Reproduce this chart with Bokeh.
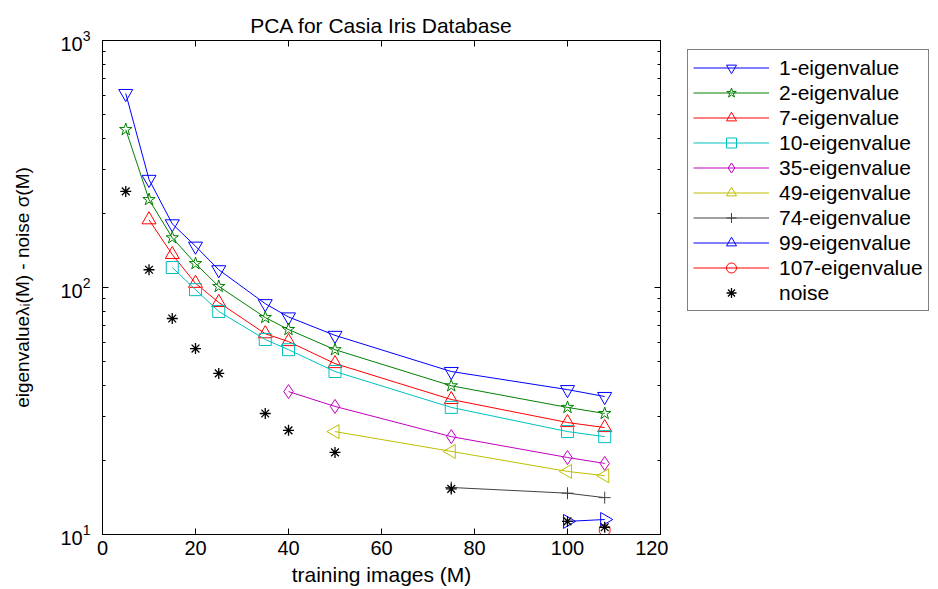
import numpy as np
from bokeh.plotting import figure
from bokeh.layouts import row
from bokeh.models import (LinearAxis, LogAxis, Range1d, FixedTicker, Legend, LegendItem)
from bokeh.embed import file_html
from bokeh.resources import INLINE

# ---- data ----
ev1_x = [5, 10, 15, 20, 25, 35, 40, 50, 75, 100, 108]
ev1_y = [610, 274, 181, 147, 118, 86, 76, 64, 45.7, 38.6, 36.2]
ev2_x = [5, 10, 15, 20, 25, 35, 40, 50, 75, 100, 108]
ev2_y = [436, 227, 159, 125, 101, 75.6, 67.6, 56, 40, 32.7, 30.9]
ev7_x = [10, 15, 20, 25, 35, 40, 50, 75, 100, 108]
ev7_y = [188, 136, 104, 87, 65, 60.4, 49.2, 35.2, 28.4, 27.1]
ev10_x = [15, 20, 25, 35, 40, 50, 75, 100, 108]
ev10_y = [120.5, 98, 80, 61.6, 56, 45.7, 32.7, 26.1, 24.9]
ev35_x = [40, 50, 75, 100, 108]
ev35_y = [37.9, 33, 24.9, 20.5, 19.4]
ev49_x = [50, 75, 100, 108]
ev49_y = [26.1, 21.7, 18.0, 17.3]
ev74_x = [75, 100, 108]
ev74_y = [15.5, 14.7, 14.1]
ev99_x = [100, 108]
ev99_y = [11.3, 11.5]
ev107_x = [108]
ev107_y = [10.4]
noise_x = [5, 10, 15, 20, 25, 35, 40, 50, 75, 100, 108]
noise_y = [245, 118, 74.9, 56.6, 44.9, 30.9, 26.4, 21.5, 15.3, 11.3, 10.7]

labels = ["1-eigenvalue", "2-eigenvalue", "7-eigenvalue", "10-eigenvalue",
          "35-eigenvalue", "49-eigenvalue", "74-eigenvalue", "99-eigenvalue",
          "107-eigenvalue", "noise"]
x_ticks = [0, 20, 40, 60, 80, 100, 120]
y_ticks = [10, 100, 1000]

FONT = "Liberation Sans"

p = figure(width=668, height=589, output_backend="svg", toolbar_location=None,
           y_axis_type="log", x_range=Range1d(0, 120), y_range=Range1d(10, 1000),
           min_border_left=102, min_border_right=8, min_border_top=40,
           min_border_bottom=55)
p.grid.visible = False
p.outline_line_color = "black"
p.background_fill_color = "white"
p.border_fill_color = "white"

p.title.text = "PCA for Casia Iris Database"
p.title.align = "center"
p.title.text_font = FONT
p.title.text_font_size = "21px"
p.title.text_font_style = "normal"
p.title.text_color = "black"
p.title.standoff = 8

minor = [m * 10 ** k for k in (1, 2) for m in range(2, 10)]

def style_axis(ax, show_labels=True):
    ax.axis_line_color = "black"
    ax.major_tick_in = 6
    ax.major_tick_out = 0
    ax.minor_tick_in = 3
    ax.minor_tick_out = 0
    ax.major_tick_line_color = "black"
    ax.minor_tick_line_color = "black"
    ax.major_label_text_font = FONT
    if show_labels:
        ax.major_label_text_font_size = "20px"
        ax.major_label_text_color = "black"
    else:
        ax.major_label_text_font_size = "1px"
        ax.major_label_text_color = None
        ax.major_label_standoff = 0
    ax.axis_label_text_font = FONT
    ax.axis_label_text_font_size = "20px"
    ax.axis_label_text_font_style = "normal"
    ax.axis_label_text_color = "black"

xa = p.xaxis[0]
xa.ticker = FixedTicker(ticks=x_ticks)
style_axis(xa)
xa.axis_label = "training images (M)"
xa.axis_label_text_font_size = "21px"
xa.major_label_standoff = 6
xa.axis_label_standoff = 5

ya = p.yaxis[0]
ya.ticker = FixedTicker(ticks=y_ticks, minor_ticks=minor)
style_axis(ya)
ya.axis_label = "eigenvalueλᵢ(M) - noise σ(M)"
ya.axis_label_text_font_size = "19px"
ya.major_label_standoff = 12
ya.axis_label_standoff = 24

top = LinearAxis(ticker=FixedTicker(ticks=x_ticks))
style_axis(top, False)
p.add_layout(top, "above")
right = LogAxis(ticker=FixedTicker(ticks=y_ticks, minor_ticks=minor))
style_axis(right, False)
p.add_layout(right, "right")

series = [
    (ev1_x, ev1_y, "#0000ff", "inverted_triangle", 0, 14),
    (ev2_x, ev2_y, "#008000", "star", 0, 13),
    (ev7_x, ev7_y, "#ff0000", "triangle", 0, 14),
    (ev10_x, ev10_y, "#00bfbf", "square", 0, 12),
    (ev35_x, ev35_y, "#bf00bf", "diamond", 0, 14),
    (ev49_x, ev49_y, "#bfbf00", "triangle", np.pi / 2, 14),
    (ev74_x, ev74_y, "#404040", "cross", 0, 12),
    (ev99_x, ev99_y, "#0000ff", "triangle", -np.pi / 2, 14),
    (ev107_x, ev107_y, "#ff0000", "circle", 0, 11),
]

for xs, ys, col, mk, ang, sz in series:
    p.line(xs, ys, line_color=col, line_width=1)
    p.scatter(xs, ys, marker=mk, angle=ang, size=sz, line_color=col,
              fill_color=None, line_width=1)
p.scatter(noise_x, noise_y, marker="asterisk", size=11, line_color="black",
          line_width=1.3)

# ---- legend panel: a second figure (frame aligned with the main one) ----
# Its renderers carry the same data, which lies outside this panel's ranges,
# so only their legend glyphs are seen.
lf = figure(width=270, height=589, output_backend="svg", toolbar_location=None,
            x_axis_type=None, y_axis_type=None, x_range=Range1d(-2, -1),
            y_range=Range1d(-2, -1), min_border_left=10, min_border_top=40,
            min_border_right=0, min_border_bottom=55)
lf.title.visible = False
lf.grid.visible = False
lf.outline_line_color = None
lf.background_fill_color = "white"
lf.border_fill_color = "white"

items = []
for (xs, ys, col, mk, ang, sz), lab in zip(series, labels):
    rl = lf.line(xs, ys, line_color=col, line_width=1)
    rs = lf.scatter(xs, ys, marker=mk, angle=ang, line_color=col,
                    fill_color=None, line_width=1)
    items.append(LegendItem(label=lab, renderers=[rl, rs]))
rn = lf.scatter(noise_x, noise_y, marker="asterisk", line_color="black", line_width=1.3)
items.append(LegendItem(label=labels[-1], renderers=[rn]))

legend = Legend(items=items, location="top_left")
legend.label_text_font = FONT
legend.label_text_font_size = "21px"
legend.label_text_color = "black"
legend.glyph_width = 76
legend.glyph_height = 25
legend.label_height = 25
legend.label_standoff = 10
legend.spacing = 0
legend.padding = 5
legend.margin = 9
legend.border_line_color = "black"
legend.border_line_width = 1
legend.background_fill_color = "white"
legend.background_fill_alpha = 1
lf.add_layout(legend, "center")

layout = row(p, lf, spacing=0)
open("out.html", "w").write(file_html(layout, INLINE))
